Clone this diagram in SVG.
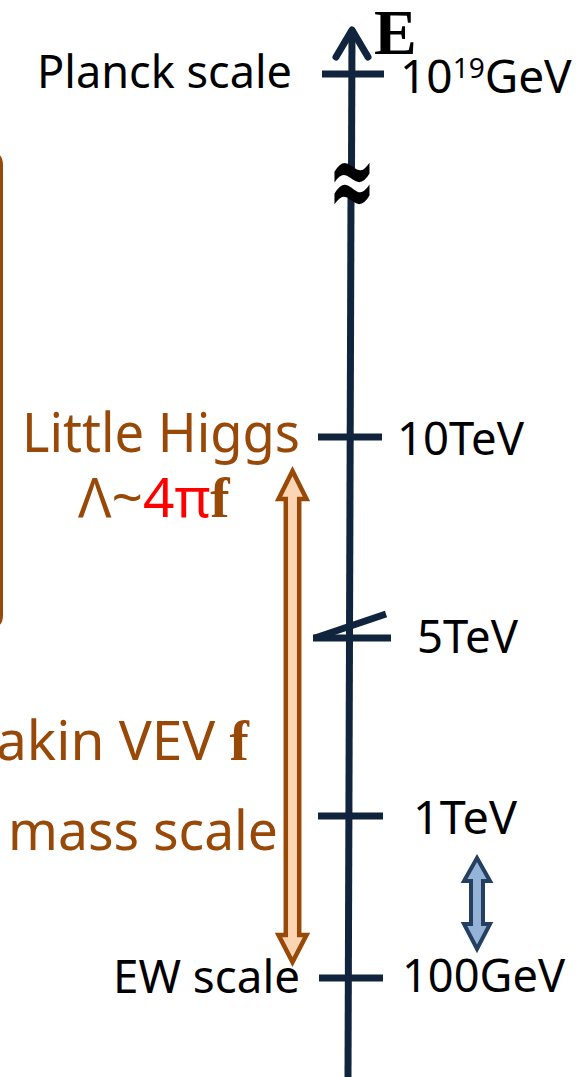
<svg xmlns="http://www.w3.org/2000/svg" width="581" height="1077" viewBox="0 0 581 1077">
  <defs>
    <style>
      .axis { stroke: #10243e; stroke-width: 7; fill: none; }
      .tick { stroke: #10243e; stroke-width: 7; stroke-linecap: butt; }
      .lbl { font-family: "Noto Sans", "Open Sans", sans-serif; font-size: 46px; fill: #000; }
      .brown { font-family: "Noto Sans", "Open Sans", sans-serif; font-size: 55px; fill: #984807; }
      .math { font-family: "Liberation Serif", "DejaVu Serif", serif; font-weight: bold; }
    </style>
  </defs>

  <rect width="581" height="1077" fill="#ffffff"/>

  <!-- bracket box running off the left edge -->
  <g id="scope-box">
    <path d="M -20 153 L -10 153 Q 1.5 153 1.5 165 L 1.5 615 Q 1.5 627 -10 627 L -20 627" fill="none" stroke="#984807" stroke-width="3"/>
  </g>

  <!-- energy axis -->
  <g id="connectors">
    <line class="axis" x1="352" y1="30" x2="351.5" y2="168"/>
    <line class="axis" x1="351" y1="198" x2="348" y2="1077"/>
    <polyline class="axis" points="336,57 352,30 368,57" stroke-linecap="round" stroke-linejoin="round"/>
    <line class="tick" x1="322" y1="74" x2="384" y2="74"/>
    <line class="tick" x1="318" y1="437" x2="382" y2="437"/>
    <line class="tick" x1="313" y1="638" x2="391" y2="638"/>
    <line class="tick" x1="315" y1="638" x2="386" y2="614"/>
    <line class="tick" x1="318" y1="816" x2="383" y2="816"/>
    <line class="tick" x1="319" y1="978" x2="383" y2="978"/>
  </g>

  <g id="axis-label">
    <text x="374" y="54" font-family="Liberation Serif, DejaVu Serif, serif" font-weight="bold" font-size="64">E</text>
    <text transform="translate(352 192) scale(1 1.9)" x="0" y="13" text-anchor="middle" font-family="DejaVu Serif, serif" font-weight="bold" font-size="56">≈</text>
  </g>

  <g id="planck">
    <text class="lbl" x="37" y="88" textLength="255" lengthAdjust="spacingAndGlyphs">Planck scale</text>
    <text class="lbl" x="400" y="93">10<tspan font-size="28" dy="-15">19</tspan><tspan dy="15">GeV</tspan></text>
  </g>

  <g id="tev10">
    <text class="lbl" x="397" y="455" textLength="127" lengthAdjust="spacingAndGlyphs">10TeV</text>
  </g>

  <g id="little-higgs">
    <text class="brown" x="22" y="452" textLength="278" lengthAdjust="spacingAndGlyphs">Little Higgs</text>
    <text class="brown" x="78" y="517" font-size="48">Λ~<tspan fill="#ff0000">4π</tspan><tspan class="math" font-size="58">f</tspan></text>
  </g>

  <g id="tev5">
    <text class="lbl" x="417" y="653" textLength="101" lengthAdjust="spacingAndGlyphs">5TeV</text>
  </g>

  <g id="vev">
    <text class="brown" x="-4" y="760">akin VEV <tspan class="math" font-size="58">f</tspan></text>
    <text class="brown" x="8" y="850" textLength="270" lengthAdjust="spacingAndGlyphs">mass scale</text>
  </g>

  <g id="tev1">
    <text class="lbl" x="413" y="834" textLength="104" lengthAdjust="spacingAndGlyphs">1TeV</text>
  </g>

  <g id="ew">
    <text class="lbl" x="113" y="993" textLength="187" lengthAdjust="spacingAndGlyphs">EW scale</text>
    <text class="lbl" x="402" y="992" textLength="163" lengthAdjust="spacingAndGlyphs">100GeV</text>
  </g>

  <!-- span arrows -->
  <g id="span-orange">
    <polygon points="292.5,471 306.5,499 299.2,499 299.2,935 306.5,935 292.5,962 278.5,935 285.8,935 285.8,499 278.5,499" fill="#fcd5b5" stroke="#984807" stroke-width="4.5" stroke-linejoin="miter"/>
  </g>
  <g id="span-blue">
    <polygon points="477,858 490,881 483,881 483,924 490,924 477,949 464,924 471,924 471,881 464,881" fill="#95b3d7" stroke="#243f60" stroke-width="4" stroke-linejoin="miter"/>
  </g>
</svg>
